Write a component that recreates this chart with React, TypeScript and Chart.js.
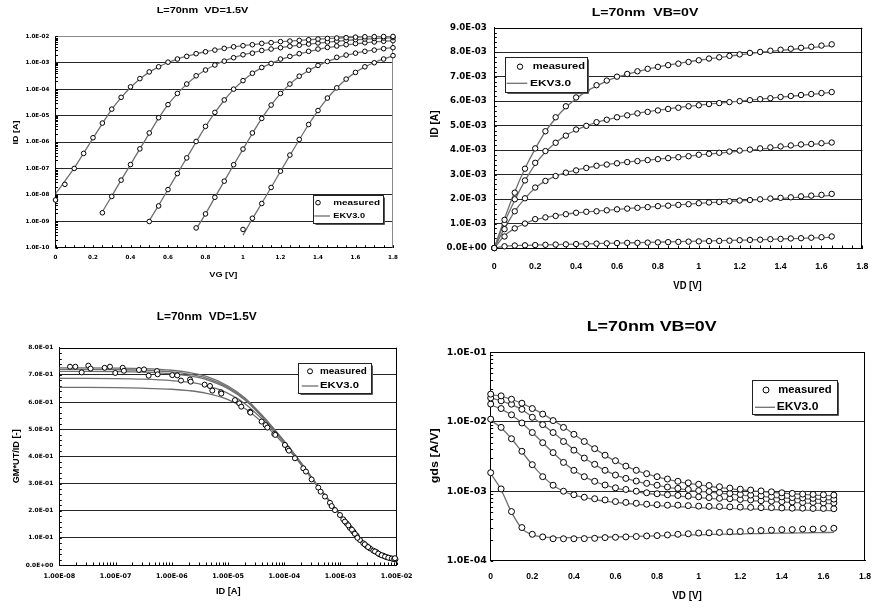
import React, { useEffect, useRef } from "react";
import { Chart, registerables } from "chart.js";
Chart.register(...registerables);

// ---------------- shared axes ----------------
const VG = [0, 0.05, 0.1, 0.15, 0.2, 0.25, 0.3, 0.35, 0.4, 0.45, 0.5, 0.55, 0.6, 0.65, 0.7, 0.75, 0.8, 0.85, 0.9, 0.95, 1, 1.05, 1.1, 1.15, 1.2, 1.25, 1.3, 1.35, 1.4, 1.45, 1.5, 1.55, 1.6, 1.65, 1.7, 1.75, 1.8];
const VD = [0, 0.05, 0.1, 0.15, 0.2, 0.25, 0.3, 0.35, 0.4, 0.45, 0.5, 0.55, 0.6, 0.65, 0.7, 0.75, 0.8, 0.85, 0.9, 0.95, 1, 1.05, 1.1, 1.15, 1.2, 1.25, 1.3, 1.35, 1.4, 1.45, 1.5, 1.55, 1.6, 1.65];
const V_TICKS = [0, 0.2, 0.4, 0.6, 0.8, 1, 1.2, 1.4, 1.6, 1.8];

// ---------------- panel 1 : ID vs VG (log) ----------------
const P1_START = [0, 5, 10, 15, 20];
const P1_ID_1 = [6.4e-9, 2.5e-8, 1.0e-7, 3.7e-7, 1.45e-6, 5.2e-6, 1.75e-5, 4.9e-5, 1.22e-4, 2.5e-4, 4.5e-4, 7.0e-4, 1.05e-3, 1.38e-3, 1.74e-3, 2.2e-3, 2.6e-3, 3.0e-3, 3.5e-3, 4.0e-3, 4.4e-3, 4.8e-3, 5.4e-3, 5.75e-3, 6.3e-3, 6.6e-3, 7.0e-3, 7.4e-3, 7.9e-3, 8.3e-3, 8.6e-3, 8.9e-3, 9.3e-3, 9.6e-3, 9.7e-3, 9.8e-3, 9.9e-3];
const P1_ID_2 = [2.1e-9, 8.7e-9, 3.6e-8, 1.4e-7, 5.5e-7, 2.2e-6, 8.3e-6, 2.6e-5, 6.9e-5, 1.56e-4, 3.2e-4, 5.3e-4, 8.2e-4, 1.15e-3, 1.55e-3, 2.0e-3, 2.3e-3, 2.9e-3, 3.3e-3, 3.7e-3, 4.2e-3, 4.6e-3, 5.1e-3, 5.6e-3, 6.1e-3, 6.6e-3, 7.0e-3, 7.5e-3, 7.9e-3, 8.3e-3, 8.6e-3, 8.9e-3];
const P1_ID_3 = [9.8e-10, 3.8e-9, 1.58e-8, 6.4e-8, 2.5e-7, 1.05e-6, 3.9e-6, 1.32e-5, 3.9e-5, 1.0e-4, 2.1e-4, 4.0e-4, 6.6e-4, 9.4e-4, 1.38e-3, 1.74e-3, 2.2e-3, 2.7e-3, 3.3e-3, 3.8e-3, 4.3e-3, 4.8e-3, 5.3e-3, 5.7e-3, 6.1e-3, 6.5e-3, 6.8e-3];
const P1_ID_4 = [5.6e-10, 1.9e-9, 8.1e-9, 3.3e-8, 1.38e-7, 5.4e-7, 2.2e-6, 7.8e-6, 2.5e-5, 6.9e-5, 1.56e-4, 3.1e-4, 5.2e-4, 7.9e-4, 1.12e-3, 1.6e-3, 1.95e-3, 2.3e-3, 2.7e-3, 3.0e-3, 3.4e-3, 3.7e-3];
const P1_ID_5 = [4.9e-10, 1.3e-9, 4.7e-9, 1.9e-8, 7.9e-8, 3.2e-7, 1.25e-6, 4.6e-6, 1.55e-5, 4.6e-5, 1.12e-4, 2.4e-4, 4.3e-4, 7.0e-4, 1.0e-3, 1.38e-3, 1.85e-3];
const P1_FIT_1 = [1.1e-8, 3.3e-8, 1.05e-7, 3.8e-7, 1.4e-6, 5.0e-6, 1.7e-5, 4.8e-5, 1.15e-4, 2.4e-4, 4.4e-4, 7.0e-4, 1.02e-3, 1.38e-3, 1.76e-3, 2.17e-3, 2.6e-3, 3.05e-3, 3.5e-3, 3.95e-3, 4.4e-3, 4.85e-3, 5.3e-3, 5.75e-3, 6.2e-3, 6.6e-3, 7.0e-3, 7.4e-3, 7.8e-3, 8.2e-3, 8.6e-3, 8.9e-3, 9.2e-3, 9.5e-3, 9.7e-3, 9.85e-3, 1.0e-2];
const P1_FIT_2 = [2.3e-9, 9.0e-9, 3.6e-8, 1.4e-7, 5.5e-7, 2.1e-6, 8.0e-6, 2.6e-5, 6.8e-5, 1.55e-4, 3.1e-4, 5.3e-4, 8.2e-4, 1.17e-3, 1.55e-3, 1.97e-3, 2.4e-3, 2.85e-3, 3.3e-3, 3.75e-3, 4.2e-3, 4.65e-3, 5.1e-3, 5.55e-3, 6.0e-3, 6.5e-3, 6.95e-3, 7.4e-3, 7.8e-3, 8.2e-3, 8.55e-3, 8.9e-3];
const P1_FIT_3 = [1.05e-9, 4.0e-9, 1.6e-8, 6.4e-8, 2.5e-7, 1.0e-6, 3.8e-6, 1.3e-5, 3.8e-5, 9.8e-5, 2.1e-4, 3.9e-4, 6.5e-4, 9.5e-4, 1.3e-3, 1.7e-3, 2.15e-3, 2.65e-3, 3.15e-3, 3.7e-3, 4.2e-3, 4.7e-3, 5.2e-3, 5.65e-3, 6.1e-3, 6.5e-3, 6.9e-3];
const P1_FIT_4 = [5.0e-10, 1.9e-9, 8.0e-9, 3.3e-8, 1.35e-7, 5.4e-7, 2.1e-6, 7.8e-6, 2.5e-5, 6.8e-5, 1.55e-4, 3.0e-4, 5.1e-4, 7.8e-4, 1.12e-3, 1.5e-3, 1.9e-3, 2.3e-3, 2.7e-3, 3.05e-3, 3.4e-3, 3.75e-3];
const P1_FIT_5 = [3.0e-10, 1.25e-9, 4.8e-9, 1.9e-8, 7.8e-8, 3.1e-7, 1.22e-6, 4.6e-6, 1.55e-5, 4.5e-5, 1.1e-4, 2.35e-4, 4.3e-4, 7.0e-4, 1.02e-3, 1.4e-3, 1.83e-3];
const P1_Y_TICKS = [1e-10, 1e-9, 1e-8, 1e-7, 1e-6, 1e-5, 1e-4, 1e-3, 1e-2];

// ---------------- panel 2 : ID vs VD (linear) ----------------
const P2_ID_1 = [0, 1.15e-3, 2.26e-3, 3.24e-3, 4.07e-3, 4.77e-3, 5.34e-3, 5.79e-3, 6.15e-3, 6.43e-3, 6.65e-3, 6.84e-3, 7.0e-3, 7.11e-3, 7.22e-3, 7.32e-3, 7.40e-3, 7.47e-3, 7.53e-3, 7.60e-3, 7.67e-3, 7.74e-3, 7.79e-3, 7.85e-3, 7.91e-3, 7.97e-3, 8.01e-3, 8.06e-3, 8.10e-3, 8.14e-3, 8.18e-3, 8.22e-3, 8.27e-3, 8.32e-3];
const P2_ID_2 = [0, 1.0e-3, 1.99e-3, 2.76e-3, 3.48e-3, 3.96e-3, 4.30e-3, 4.59e-3, 4.84e-3, 4.99e-3, 5.14e-3, 5.24e-3, 5.34e-3, 5.42e-3, 5.50e-3, 5.56e-3, 5.62e-3, 5.68e-3, 5.73e-3, 5.79e-3, 5.83e-3, 5.88e-3, 5.92e-3, 5.96e-3, 6.0e-3, 6.04e-3, 6.08e-3, 6.12e-3, 6.17e-3, 6.21e-3, 6.25e-3, 6.29e-3, 6.33e-3, 6.37e-3];
const P2_ID_3 = [0, 7.7e-4, 1.5e-3, 2.03e-3, 2.47e-3, 2.74e-3, 2.94e-3, 3.08e-3, 3.17e-3, 3.27e-3, 3.36e-3, 3.41e-3, 3.46e-3, 3.51e-3, 3.55e-3, 3.59e-3, 3.63e-3, 3.67e-3, 3.71e-3, 3.75e-3, 3.81e-3, 3.85e-3, 3.89e-3, 3.94e-3, 3.98e-3, 4.02e-3, 4.07e-3, 4.11e-3, 4.15e-3, 4.19e-3, 4.23e-3, 4.25e-3, 4.28e-3, 4.31e-3];
const P2_ID_4 = [0, 4.7e-4, 8.0e-4, 1.0e-3, 1.18e-3, 1.25e-3, 1.31e-3, 1.38e-3, 1.44e-3, 1.48e-3, 1.50e-3, 1.54e-3, 1.58e-3, 1.61e-3, 1.64e-3, 1.67e-3, 1.71e-3, 1.73e-3, 1.76e-3, 1.79e-3, 1.83e-3, 1.86e-3, 1.88e-3, 1.91e-3, 1.94e-3, 1.96e-3, 1.99e-3, 2.02e-3, 2.05e-3, 2.07e-3, 2.11e-3, 2.14e-3, 2.17e-3, 2.21e-3];
const P2_ID_5 = [0, 7e-5, 1.0e-4, 1.1e-4, 1.2e-4, 1.3e-4, 1.4e-4, 1.5e-4, 1.6e-4, 1.7e-4, 1.8e-4, 1.9e-4, 2.0e-4, 2.1e-4, 2.1e-4, 2.2e-4, 2.3e-4, 2.4e-4, 2.5e-4, 2.6e-4, 2.7e-4, 2.8e-4, 2.9e-4, 3.0e-4, 3.2e-4, 3.3e-4, 3.4e-4, 3.6e-4, 3.7e-4, 3.9e-4, 4.0e-4, 4.2e-4, 4.4e-4, 4.7e-4];
const P2_FIT_1 = [0, 1.2e-3, 2.3e-3, 3.25e-3, 4.05e-3, 4.75e-3, 5.3e-3, 5.75e-3, 6.1e-3, 6.4e-3, 6.62e-3, 6.82e-3, 6.98e-3, 7.1e-3, 7.21e-3, 7.31e-3, 7.4e-3, 7.47e-3, 7.54e-3, 7.61e-3, 7.67e-3, 7.73e-3, 7.78e-3, 7.84e-3, 7.89e-3, 7.94e-3, 7.99e-3, 8.03e-3, 8.07e-3, 8.11e-3, 8.15e-3, 8.19e-3, 8.23e-3, 8.27e-3];
const P2_FIT_2 = [0, 1.05e-3, 1.95e-3, 2.75e-3, 3.42e-3, 3.92e-3, 4.3e-3, 4.6e-3, 4.82e-3, 4.99e-3, 5.13e-3, 5.24e-3, 5.34e-3, 5.42e-3, 5.5e-3, 5.57e-3, 5.63e-3, 5.68e-3, 5.74e-3, 5.79e-3, 5.83e-3, 5.88e-3, 5.92e-3, 5.96e-3, 6.0e-3, 6.04e-3, 6.08e-3, 6.12e-3, 6.16e-3, 6.2e-3, 6.24e-3, 6.28e-3, 6.32e-3, 6.36e-3];
const P2_FIT_3 = [0, 8.0e-4, 1.5e-3, 2.03e-3, 2.45e-3, 2.74e-3, 2.94e-3, 3.08e-3, 3.18e-3, 3.27e-3, 3.35e-3, 3.41e-3, 3.46e-3, 3.51e-3, 3.55e-3, 3.59e-3, 3.63e-3, 3.67e-3, 3.71e-3, 3.75e-3, 3.8e-3, 3.84e-3, 3.88e-3, 3.92e-3, 3.96e-3, 4.0e-3, 4.04e-3, 4.08e-3, 4.12e-3, 4.16e-3, 4.2e-3, 4.23e-3, 4.26e-3, 4.3e-3];
const P2_FIT_4 = [0, 5.0e-4, 8.0e-4, 1.0e-3, 1.16e-3, 1.25e-3, 1.32e-3, 1.38e-3, 1.43e-3, 1.47e-3, 1.51e-3, 1.54e-3, 1.58e-3, 1.61e-3, 1.64e-3, 1.67e-3, 1.7e-3, 1.73e-3, 1.76e-3, 1.79e-3, 1.82e-3, 1.85e-3, 1.87e-3, 1.9e-3, 1.93e-3, 1.95e-3, 1.98e-3, 2.0e-3, 2.03e-3, 2.05e-3, 2.08e-3, 2.1e-3, 2.12e-3, 2.15e-3];
const P2_FIT_5 = [0, 7e-5, 1.0e-4, 1.1e-4, 1.2e-4, 1.3e-4, 1.4e-4, 1.5e-4, 1.6e-4, 1.7e-4, 1.8e-4, 1.9e-4, 2.0e-4, 2.1e-4, 2.2e-4, 2.3e-4, 2.4e-4, 2.5e-4, 2.6e-4, 2.7e-4, 2.8e-4, 2.9e-4, 3.0e-4, 3.1e-4, 3.2e-4, 3.3e-4, 3.4e-4, 3.5e-4, 3.7e-4, 3.8e-4, 3.9e-4, 4.1e-4, 4.2e-4, 4.4e-4];
const P2_Y_TICKS = [0, 1e-3, 2e-3, 3e-3, 4e-3, 5e-3, 6e-3, 7e-3, 8e-3, 9e-3];

// ---------------- panel 3 : gm*UT/ID vs ID ----------------
const P3_ID = [1.55e-8, 1.93e-8, 2.5e-8, 3.28e-8, 3.6e-8, 6.4e-8, 7.96e-8, 9.9e-8, 1.34e-7, 1.41e-7, 2.61e-7, 3.21e-7, 3.88e-7, 5.46e-7, 5.61e-7, 1.02e-6, 1.25e-6, 1.46e-6, 2.11e-6, 2.17e-6, 3.84e-6, 4.78e-6, 5.26e-6, 7.5e-6, 7.6e-6, 1.33e-5, 1.59e-5, 1.72e-5, 2.46e-5, 2.5e-5, 3.96e-5, 4.67e-5, 5.0e-5, 6.66e-5, 6.93e-5, 1.03e-4, 1.16e-4, 1.21e-4, 1.55e-4, 2.18e-4, 2.43e-4, 3.07e-4, 4.03e-4, 4.44e-4, 5.3e-4, 6.5e-4, 6.97e-4, 7.98e-4, 9.8e-4, 1.12e-3, 1.29e-3, 1.47e-3, 1.69e-3, 1.94e-3, 2.22e-3, 2.55e-3, 2.92e-3, 3.35e-3, 3.84e-3, 4.4e-3, 5.0e-3, 5.8e-3, 6.6e-3, 7.6e-3, 8.7e-3, 9.5e-3, 1.2e-3, 1.38e-3, 1.6e-3, 1.8e-3, 2.0e-3, 2.7e-3, 3.1e-3, 4.1e-3, 4.7e-3, 5.4e-3, 6.2e-3, 7.1e-3, 8.2e-3, 9.0e-3, 9.3e-3];
const P3_GM = [0.730, 0.730, 0.709, 0.734, 0.723, 0.726, 0.730, 0.707, 0.726, 0.715, 0.718, 0.720, 0.697, 0.714, 0.702, 0.699, 0.698, 0.679, 0.683, 0.675, 0.664, 0.659, 0.642, 0.636, 0.631, 0.607, 0.595, 0.583, 0.564, 0.561, 0.528, 0.515, 0.506, 0.482, 0.479, 0.442, 0.427, 0.421, 0.393, 0.356, 0.344, 0.315, 0.285, 0.270, 0.252, 0.229, 0.217, 0.202, 0.184, 0.168, 0.153, 0.137, 0.123, 0.108, 0.092, 0.080, 0.070, 0.061, 0.053, 0.047, 0.039, 0.034, 0.029, 0.025, 0.022, 0.021, 0.160, 0.146, 0.130, 0.115, 0.100, 0.076, 0.066, 0.050, 0.042, 0.036, 0.031, 0.027, 0.024, 0.022, 0.025];
const P3_FIT_ID = [1e-8, 3e-8, 1e-7, 3e-7, 1e-6, 2e-6, 4e-6, 1e-5, 2e-5, 4e-5, 1e-4, 2e-4, 4e-4, 1e-3, 2e-3, 4e-3, 1e-2];
const P3_FIT_1 = [0.726, 0.726, 0.725, 0.723, 0.717, 0.709, 0.695, 0.659, 0.615, 0.552, 0.456, 0.376, 0.290, 0.185, 0.108, 0.050, 0.021];
const P3_FIT_2 = [0.720, 0.720, 0.719, 0.717, 0.711, 0.703, 0.689, 0.654, 0.611, 0.549, 0.455, 0.375, 0.290, 0.185, 0.108, 0.050, 0.021];
const P3_FIT_3 = [0.713, 0.713, 0.712, 0.710, 0.704, 0.697, 0.683, 0.649, 0.607, 0.546, 0.453, 0.374, 0.289, 0.184, 0.108, 0.050, 0.021];
const P3_FIT_4 = [0.687, 0.687, 0.686, 0.684, 0.679, 0.673, 0.661, 0.632, 0.594, 0.538, 0.449, 0.372, 0.288, 0.184, 0.107, 0.050, 0.021];
const P3_FIT_5 = [0.654, 0.654, 0.653, 0.651, 0.647, 0.642, 0.633, 0.609, 0.576, 0.526, 0.443, 0.369, 0.287, 0.183, 0.107, 0.050, 0.021];
const P3_X_TICKS = [1e-8, 1e-7, 1e-6, 1e-5, 1e-4, 1e-3, 1e-2];
const P3_Y_TICKS = [0, 0.1, 0.2, 0.3, 0.4, 0.5, 0.6, 0.7, 0.8];

// ---------------- panel 4 : gds vs VD (log) ----------------
const P4_GDS_1 = [2.5e-2, 2.36e-2, 2.11e-2, 1.85e-2, 1.55e-2, 1.29e-2, 1.04e-2, 8.3e-3, 6.6e-3, 5.2e-3, 4.1e-3, 3.3e-3, 2.75e-3, 2.3e-3, 2.0e-3, 1.79e-3, 1.62e-3, 1.5e-3, 1.39e-3, 1.32e-3, 1.26e-3, 1.21e-3, 1.16e-3, 1.11e-3, 1.07e-3, 1.04e-3, 1.01e-3, 9.8e-4, 9.5e-4, 9.3e-4, 9.1e-4, 9.0e-4, 8.9e-4, 8.8e-4];
const P4_GDS_2 = [2.2e-2, 2.0e-2, 1.79e-2, 1.51e-2, 1.16e-2, 9.1e-3, 7.0e-3, 5.2e-3, 3.9e-3, 3.0e-3, 2.44e-3, 2.0e-3, 1.71e-3, 1.53e-3, 1.40e-3, 1.30e-3, 1.22e-3, 1.15e-3, 1.10e-3, 1.06e-3, 1.02e-3, 9.9e-4, 9.6e-4, 9.3e-4, 9.0e-4, 8.8e-4, 8.6e-4, 8.4e-4, 8.3e-4, 8.1e-4, 8.0e-4, 7.9e-4, 7.8e-4, 7.7e-4];
const P4_GDS_3 = [1.8e-2, 1.55e-2, 1.26e-2, 9.6e-3, 7.0e-3, 5.0e-3, 3.6e-3, 2.6e-3, 2.0e-3, 1.62e-3, 1.39e-3, 1.23e-3, 1.12e-3, 1.06e-3, 1.0e-3, 9.5e-4, 9.2e-4, 8.9e-4, 8.7e-4, 8.5e-4, 8.3e-4, 8.1e-4, 7.9e-4, 7.8e-4, 7.6e-4, 7.5e-4, 7.3e-4, 7.2e-4, 7.1e-4, 7.0e-4, 6.9e-4, 6.9e-4, 6.8e-4, 6.8e-4];
const P4_GDS_4 = [1.09e-2, 8.3e-3, 5.7e-3, 3.76e-3, 2.41e-3, 1.62e-3, 1.22e-3, 1.0e-3, 8.9e-4, 8.2e-4, 7.8e-4, 7.5e-4, 7.1e-4, 6.9e-4, 6.7e-4, 6.5e-4, 6.4e-4, 6.3e-4, 6.3e-4, 6.2e-4, 6.1e-4, 6.05e-4, 6.0e-4, 5.95e-4, 5.9e-4, 5.85e-4, 5.8e-4, 5.8e-4, 5.75e-4, 5.7e-4, 5.7e-4, 5.65e-4, 5.65e-4, 5.6e-4];
const P4_GDS_5 = [1.85e-3, 1.08e-3, 5.1e-4, 3.0e-4, 2.4e-4, 2.2e-4, 2.07e-4, 2.07e-4, 2.07e-4, 2.08e-4, 2.1e-4, 2.15e-4, 2.17e-4, 2.2e-4, 2.23e-4, 2.27e-4, 2.3e-4, 2.35e-4, 2.4e-4, 2.44e-4, 2.5e-4, 2.52e-4, 2.55e-4, 2.6e-4, 2.63e-4, 2.7e-4, 2.72e-4, 2.75e-4, 2.8e-4, 2.8e-4, 2.85e-4, 2.85e-4, 2.9e-4, 2.93e-4];
const P4_FIT_1 = [2.45e-2, 2.32e-2, 2.1e-2, 1.84e-2, 1.56e-2, 1.3e-2, 1.05e-2, 8.4e-3, 6.6e-3, 5.2e-3, 4.1e-3, 3.3e-3, 2.7e-3, 2.3e-3, 2.0e-3, 1.78e-3, 1.61e-3, 1.48e-3, 1.38e-3, 1.3e-3, 1.24e-3, 1.18e-3, 1.13e-3, 1.09e-3, 1.05e-3, 1.02e-3, 9.9e-4, 9.6e-4, 9.4e-4, 9.2e-4, 9.0e-4, 8.8e-4, 8.7e-4, 8.6e-4];
const P4_FIT_2 = [2.2e-2, 2.0e-2, 1.77e-2, 1.5e-2, 1.17e-2, 9.1e-3, 7.0e-3, 5.3e-3, 3.95e-3, 3.0e-3, 2.42e-3, 2.0e-3, 1.72e-3, 1.53e-3, 1.39e-3, 1.29e-3, 1.21e-3, 1.14e-3, 1.09e-3, 1.04e-3, 1.0e-3, 9.7e-4, 9.4e-4, 9.1e-4, 8.8e-4, 8.6e-4, 8.4e-4, 8.2e-4, 8.0e-4, 7.9e-4, 7.8e-4, 7.7e-4, 7.6e-4, 7.5e-4];
const P4_FIT_3 = [1.75e-2, 1.52e-2, 1.25e-2, 9.6e-3, 7.0e-3, 5.0e-3, 3.6e-3, 2.62e-3, 2.0e-3, 1.62e-3, 1.38e-3, 1.22e-3, 1.11e-3, 1.04e-3, 9.8e-4, 9.3e-4, 9.0e-4, 8.7e-4, 8.5e-4, 8.3e-4, 8.1e-4, 7.9e-4, 7.7e-4, 7.6e-4, 7.4e-4, 7.3e-4, 7.2e-4, 7.1e-4, 7.0e-4, 6.9e-4, 6.8e-4, 6.7e-4, 6.7e-4, 6.6e-4];
const P4_FIT_4 = [1.05e-2, 8.2e-3, 5.7e-3, 3.7e-3, 2.4e-3, 1.65e-3, 1.22e-3, 1.0e-3, 8.8e-4, 8.1e-4, 7.6e-4, 7.2e-4, 6.9e-4, 6.7e-4, 6.5e-4, 6.3e-4, 6.2e-4, 6.1e-4, 6.0e-4, 5.9e-4, 5.8e-4, 5.75e-4, 5.7e-4, 5.65e-4, 5.6e-4, 5.55e-4, 5.5e-4, 5.45e-4, 5.4e-4, 5.4e-4, 5.35e-4, 5.3e-4, 5.3e-4, 5.25e-4];
const P4_FIT_5 = [1.8e-3, 1.05e-3, 5.0e-4, 2.9e-4, 2.35e-4, 2.2e-4, 2.15e-4, 2.15e-4, 2.15e-4, 2.15e-4, 2.17e-4, 2.19e-4, 2.2e-4, 2.22e-4, 2.24e-4, 2.26e-4, 2.28e-4, 2.3e-4, 2.32e-4, 2.34e-4, 2.36e-4, 2.38e-4, 2.4e-4, 2.41e-4, 2.43e-4, 2.45e-4, 2.46e-4, 2.48e-4, 2.49e-4, 2.5e-4, 2.52e-4, 2.53e-4, 2.54e-4, 2.55e-4];
const P4_Y_TICKS = [1e-4, 1e-3, 1e-2, 1e-1];

// ---------------- helpers ----------------
const WIDE_FONT = "DejaVu Sans";
const ARIAL_FONT = "Liberation Sans";
const TEXT_FONT = '"Liberation Sans", Arial, sans-serif';
const LINE_COLOR = "#6f6f6f";
const GRID_COLOR = "#262626";

function fmtE(v: number, d: number): string {
  if (v === 0) return (0).toFixed(d) + "E+00";
  const e = Math.floor(Math.log10(Math.abs(v)) + 1e-9);
  const m = v / Math.pow(10, e);
  return m.toFixed(d) + "E" + (e < 0 ? "-" : "+") + String(Math.abs(e)).padStart(2, "0");
}
function logMinors(lo: number, hi: number): number[] {
  const out: number[] = [];
  for (let e = lo; e < hi; e++) for (let k = 1; k < 10; k++) out.push(k * Math.pow(10, e));
  out.push(Math.pow(10, hi));
  return out;
}
function linMinors(lo: number, hi: number, step: number): number[] {
  const out: number[] = [];
  const n = Math.round((hi - lo) / step);
  for (let i = 0; i <= n; i++) out.push(lo + i * step);
  return out;
}

type Txt = { t: string; x: number; y: number; size: number; w?: number; rot?: boolean; align?: "left" | "center" };
type Deco = {
  ox: number; oy: number;
  frameTop: string; frameRight: string;
  minorX: number[]; minorY: number[]; tickLen: number;
  texts: Txt[];
  legend: { box: number[]; circle: number[]; line: number[]; m: Txt; e: Txt };
};

function drawTxt(ctx: CanvasRenderingContext2D, t: Txt, ox: number, oy: number) {
  ctx.save();
  ctx.font = `bold ${t.size}px ${TEXT_FONT}`;
  ctx.fillStyle = "#000";
  ctx.textBaseline = "middle";
  ctx.textAlign = t.align || "center";
  ctx.translate(t.x - ox, t.y - oy);
  if (t.rot) ctx.rotate(-Math.PI / 2);
  if (t.w) {
    const m = ctx.measureText(t.t).width;
    if (m > 0) ctx.scale(t.w / m, 1);
  }
  ctx.fillText(t.t, 0, 0);
  ctx.restore();
}

function makeDeco(d: Deco) {
  return {
    id: "deco",
    beforeDatasetsDraw(chart: any) {
      const ctx = chart.ctx as CanvasRenderingContext2D;
      const a = chart.chartArea;
      ctx.save();
      ctx.lineWidth = 1;
      const T = Math.round(a.top) + 0.5;
      const R = Math.round(a.right) - 0.5;
      ctx.strokeStyle = d.frameTop;
      ctx.beginPath(); ctx.moveTo(a.left, T); ctx.lineTo(a.right, T); ctx.stroke();
      ctx.strokeStyle = d.frameRight;
      ctx.beginPath(); ctx.moveTo(R, a.top); ctx.lineTo(R, a.bottom); ctx.stroke();
      ctx.strokeStyle = "#000";
      const xs = chart.scales.x, ys = chart.scales.y;
      ctx.beginPath();
      for (const v of d.minorX) {
        const px = Math.round(xs.getPixelForValue(v)) + 0.5;
        ctx.moveTo(px, a.bottom); ctx.lineTo(px, a.bottom - d.tickLen);
      }
      for (const v of d.minorY) {
        const py = Math.round(ys.getPixelForValue(v)) + 0.5;
        ctx.moveTo(a.left, py); ctx.lineTo(a.left + d.tickLen, py);
      }
      ctx.stroke();
      ctx.restore();
    },
    afterDatasetsDraw(chart: any) {
      const ctx = chart.ctx as CanvasRenderingContext2D;
      const lg = d.legend;
      const x1 = Math.round(lg.box[0] - d.ox) + 0.5, y1 = Math.round(lg.box[1] - d.oy) + 0.5;
      const x2 = Math.round(lg.box[2] - d.ox) + 0.5, y2 = Math.round(lg.box[3] - d.oy) + 0.5;
      ctx.save();
      ctx.fillStyle = "#fff";
      ctx.fillRect(x1, y1, x2 - x1, y2 - y1);
      ctx.strokeStyle = "#222";
      ctx.lineWidth = 1;
      ctx.strokeRect(x1, y1, x2 - x1, y2 - y1);
      ctx.strokeStyle = "#555";
      ctx.beginPath(); ctx.moveTo(x2 + 1, y1 + 2); ctx.lineTo(x2 + 1, y2 + 1); ctx.lineTo(x1 + 2, y2 + 1); ctx.stroke();
      ctx.beginPath();
      ctx.arc(lg.circle[0] - d.ox, lg.circle[1] - d.oy, lg.circle[2], 0, Math.PI * 2);
      ctx.fillStyle = "#fff"; ctx.fill();
      ctx.strokeStyle = "#000"; ctx.stroke();
      ctx.strokeStyle = LINE_COLOR; ctx.lineWidth = 1.3;
      ctx.beginPath(); ctx.moveTo(lg.line[0] - d.ox, lg.line[2] - d.oy); ctx.lineTo(lg.line[1] - d.ox, lg.line[2] - d.oy); ctx.stroke();
      ctx.restore();
      drawTxt(ctx, lg.m, d.ox, d.oy);
      drawTxt(ctx, lg.e, d.ox, d.oy);
    },
    afterDraw(chart: any) {
      const ctx = chart.ctx as CanvasRenderingContext2D;
      for (const t of d.texts) drawTxt(ctx, t, d.ox, d.oy);
    },
  };
}

type Spec = {
  W: number; H: number; L: number; R: number; T: number; B: number;
  xAxis: any; yAxis: any;
  measured: { x: number; y: number }[][];
  fits: { x: number; y: number }[][];
  radius: number;
  deco: Deco;
};

function axisCfg(o: any, isX: boolean, size: number) {
  return {
    type: o.log ? "logarithmic" : "linear",
    position: isX ? "bottom" : "left",
    min: o.min, max: o.max,
    afterBuildTicks: (s: any) => { s.ticks = o.ticks.map((v: number) => ({ value: v })); },
    afterFit: (s: any) => { if (isX) s.height = size; else s.width = size; },
    ticks: {
      callback: o.fmt, color: "#000", padding: o.pad, autoSkip: false, maxRotation: 0,
      font: { family: o.family || WIDE_FONT, size: o.font, weight: "bold" },
    },
    grid: isX
      ? { display: false, drawTicks: false }
      : { display: true, drawTicks: false, lineWidth: 1, color: (c: any) => (c.tick && c.tick.value === o.max ? "rgba(0,0,0,0)" : GRID_COLOR) },
    border: { display: true, color: "#000", width: 1 },
  };
}

function buildConfig(p: Spec): any {
  const datasets: any[] = [];
  p.measured.forEach((pts) => datasets.push({
    data: pts, showLine: false, order: 0, clip: false,
    pointRadius: p.radius, pointHoverRadius: p.radius, pointStyle: "circle",
    pointBackgroundColor: "#fff", pointBorderColor: "#000", pointBorderWidth: 1,
  }));
  p.fits.forEach((pts) => datasets.push({
    data: pts, showLine: true, order: 1, pointRadius: 0,
    borderColor: LINE_COLOR, borderWidth: 1.3, cubicInterpolationMode: "monotone", fill: false,
  }));
  return {
    type: "scatter",
    data: { datasets },
    options: {
      responsive: false, animation: false, events: [],
      layout: { padding: { left: 0, top: p.T, right: p.W - p.R, bottom: 0 } },
      plugins: { legend: { display: false }, tooltip: { enabled: false }, title: { display: false } },
      scales: { x: axisCfg(p.xAxis, true, p.H - p.B), y: axisCfg(p.yAxis, false, p.L) },
    },
    plugins: [makeDeco(p.deco)],
  };
}

const pts = (xs: number[], ys: number[], start = 0) => ys.map((v, i) => ({ x: xs[start + i], y: v }));
const fmtV = (v: any) => String(v);

// ---------------- specs ----------------
const P1_MEAS = [P1_ID_1, P1_ID_2, P1_ID_3, P1_ID_4, P1_ID_5];
const P1_FIT = [P1_FIT_1, P1_FIT_2, P1_FIT_3, P1_FIT_4, P1_FIT_5];
const spec1: Spec = {
  W: 440, H: 300, L: 55.5, R: 393, T: 36.3, B: 247.7, radius: 2.3,
  xAxis: { min: 0, max: 1.8, ticks: V_TICKS, fmt: fmtV, pad: 6.6, font: 5.6 },
  yAxis: { log: true, min: 1e-10, max: 1e-2, ticks: P1_Y_TICKS, fmt: (v: any) => fmtE(Number(v), 1), pad: 6.2, font: 5.6 },
  measured: P1_MEAS.map((a, k) => pts(VG, a, P1_START[k])),
  fits: P1_FIT.map((a, k) => pts(VG, a, P1_START[k])),
  deco: {
    ox: 0, oy: 0, frameTop: "#8a8a8a", frameRight: "#8a8a8a",
    minorX: linMinors(0, 1.8, 0.05), minorY: logMinors(-10, -2), tickLen: 2.5,
    texts: [
      { t: "L=70nm  VD=1.5V", x: 202.5, y: 11, size: 8.4, w: 91.7 },
      { t: "VG [V]", x: 223.3, y: 274.5, size: 8, w: 28 },
      { t: "ID [A]", x: 15.5, y: 132.5, size: 8, w: 24, rot: true },
    ],
    legend: {
      box: [312.7, 195, 382.7, 222.7], circle: [318, 202.7, 2.3], line: [314.3, 330, 216],
      m: { t: "measured", x: 333.3, y: 202.7, size: 8, w: 46.7, align: "left" },
      e: { t: "EKV3.0", x: 333.3, y: 216, size: 8, w: 31.7, align: "left" },
    },
  },
};

const P2_MEAS = [P2_ID_1, P2_ID_2, P2_ID_3, P2_ID_4, P2_ID_5];
const P2_FIT = [P2_FIT_1, P2_FIT_2, P2_FIT_3, P2_FIT_4, P2_FIT_5];
const spec2: Spec = {
  W: 462, H: 300, L: 74.3, R: 450, T: 27.7, B: 248, radius: 2.7,
  xAxis: { min: 0, max: 1.8, ticks: V_TICKS, fmt: fmtV, pad: 13.5, font: 8.8, family: ARIAL_FONT },
  yAxis: { min: 0, max: 9e-3, ticks: P2_Y_TICKS, fmt: (v: any) => fmtE(Number(v), 1), pad: 7.6, font: 8.6 },
  measured: P2_MEAS.map((a) => pts(VD, a)),
  fits: P2_FIT.map((a) => pts(VD, a)),
  deco: {
    ox: 420, oy: 0, frameTop: "#000", frameRight: "#000",
    minorX: linMinors(0, 1.8, 0.05), minorY: linMinors(0, 9e-3, 2e-4), tickLen: 2.5,
    texts: [
      { t: "L=70nm  VB=0V", x: 645, y: 13, size: 10.2, w: 106.7 },
      { t: "VD [V]", x: 687.5, y: 285.8, size: 10.2, w: 28.3 },
      { t: "ID [A]", x: 435, y: 124, size: 10.5, w: 27, rot: true },
    ],
    legend: {
      box: [505, 56.7, 586.7, 91.7], circle: [520, 66.7, 2.7], line: [506.7, 527.3, 83.3],
      m: { t: "measured", x: 532.7, y: 66.7, size: 9.5, w: 52.3, align: "left" },
      e: { t: "EKV3.0", x: 530, y: 83.3, size: 9.5, w: 41, align: "left" },
    },
  },
};

const P3_FIT = [P3_FIT_1, P3_FIT_2, P3_FIT_3, P3_FIT_4, P3_FIT_5];
const spec3: Spec = {
  W: 440, H: 309, L: 59.3, R: 396.7, T: 47.7, B: 265, radius: 2.5,
  xAxis: { log: true, min: 1e-8, max: 1e-2, ticks: P3_X_TICKS, fmt: (v: any) => fmtE(Number(v), 2), pad: 7.9, font: 6.4 },
  yAxis: { min: 0, max: 0.8, ticks: P3_Y_TICKS, fmt: (v: any) => fmtE(Number(v), 1), pad: 6, font: 5.9 },
  measured: [pts(P3_ID, P3_GM)],
  fits: P3_FIT.map((a) => pts(P3_FIT_ID, a)),
  deco: {
    ox: 0, oy: 300, frameTop: "#000", frameRight: "#000",
    minorX: logMinors(-8, -2), minorY: linMinors(0, 0.8, 0.02), tickLen: 2.5,
    texts: [
      { t: "L=70nm  VD=1.5V", x: 206.7, y: 317.5, size: 10, w: 100 },
      { t: "ID [A]", x: 228.3, y: 591.7, size: 8.5, w: 24.7 },
      { t: "GM*UT/ID [-]", x: 16.3, y: 456.3, size: 8.5, w: 54, rot: true },
    ],
    legend: {
      box: [298.3, 363.3, 370.7, 392.7], circle: [310, 371.3, 2.5], line: [301.7, 318.3, 386],
      m: { t: "measured", x: 320, y: 371.3, size: 8.5, w: 46.7, align: "left" },
      e: { t: "EKV3.0", x: 320, y: 386, size: 8.5, w: 39, align: "left" },
    },
  },
};

const P4_MEAS = [P4_GDS_1, P4_GDS_2, P4_GDS_3, P4_GDS_4, P4_GDS_5];
const P4_FIT = [P4_FIT_1, P4_FIT_2, P4_FIT_3, P4_FIT_4, P4_FIT_5];
const spec4: Spec = {
  W: 462, H: 309, L: 70.7, R: 455, T: 52.3, B: 260.7, radius: 3,
  xAxis: { min: 0, max: 1.8, ticks: V_TICKS, fmt: fmtV, pad: 11, font: 8.6, family: ARIAL_FONT },
  yAxis: { log: true, min: 1e-4, max: 1e-1, ticks: P4_Y_TICKS, fmt: (v: any) => fmtE(Number(v), 1), pad: 4, font: 9.4 },
  measured: P4_MEAS.map((a) => pts(VD, a)),
  fits: P4_FIT.map((a) => pts(VD, a)),
  deco: {
    ox: 420, oy: 300, frameTop: "#000", frameRight: "#000",
    minorX: [], minorY: logMinors(-4, -1), tickLen: 2.5,
    texts: [
      { t: "L=70nm VB=0V", x: 651.7, y: 327, size: 15.4, w: 130 },
      { t: "VD [V]", x: 687, y: 596.2, size: 11, w: 29.3 },
      { t: "gds [A/V]", x: 435, y: 455.8, size: 11.5, w: 55, rot: true },
    ],
    legend: {
      box: [752.3, 380, 836.7, 414.3], circle: [766, 390, 3], line: [755, 775, 407.3],
      m: { t: "measured", x: 778.3, y: 390, size: 10, w: 53.3, align: "left" },
      e: { t: "EKV3.0", x: 776.7, y: 407.3, size: 10, w: 41.7, align: "left" },
    },
  },
};

function Panel({ left, top, spec }: { left: number; top: number; spec: Spec }) {
  const ref = useRef<HTMLCanvasElement>(null);
  useEffect(() => {
    if (!ref.current) return;
    const chart = new Chart(ref.current, buildConfig(spec));
    return () => chart.destroy();
  }, [spec]);
  return (
    <canvas
      ref={ref}
      width={spec.W}
      height={spec.H}
      style={{ position: "absolute", left, top, width: spec.W, height: spec.H }}
    />
  );
}

export default function App() {
  return (
    <div style={{ position: "absolute", left: 0, top: 0, width: 882, height: 609, background: "#fff", overflow: "hidden" }}>
      <Panel left={0} top={0} spec={spec1} />
      <Panel left={420} top={0} spec={spec2} />
      <Panel left={0} top={300} spec={spec3} />
      <Panel left={420} top={300} spec={spec4} />
    </div>
  );
}
